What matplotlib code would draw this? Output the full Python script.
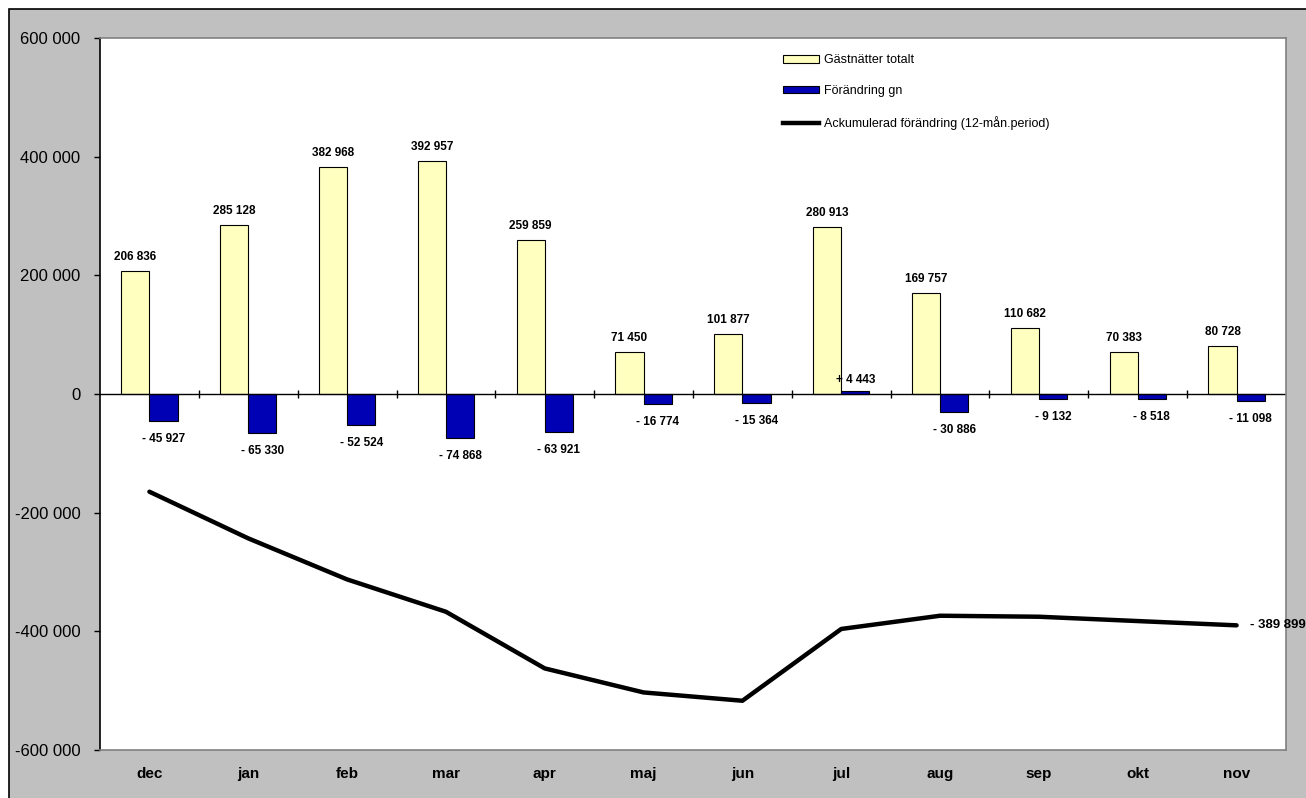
import numpy as np
import matplotlib
matplotlib.use("Agg")
import matplotlib.pyplot as plt
from matplotlib.patches import Rectangle
from matplotlib.lines import Line2D
from matplotlib.patches import Patch

plt.rcParams['font.family'] = ['Liberation Sans', 'DejaVu Sans']

months = ["dec", "jan", "feb", "mar", "apr", "maj", "jun", "jul", "aug", "sep", "okt", "nov"]
totals = [206836, 285128, 382968, 392957, 259859, 71450, 101877, 280913, 169757, 110682, 70383, 80728]
changes = [-45927, -65330, -52524, -74868, -63921, -16774, -15364, 4443, -30886, -9132, -8518, -11098]
cumulative = [-164700, -243300, -312500, -367000, -462500, -503000, -517000, -396000, -373700, -375400, -382700, -389899]
yticks = [600000, 400000, 200000, 0, -200000, -400000, -600000]

legend_labels = ["Gästnätter totalt", "Förändring gn", "Ackumulerad förändring (12-mån.period)"]

W, H = 1306, 798
fig = plt.figure(figsize=(W / 100, H / 100), dpi=100)
fig.patch.set_facecolor('white')
# grey chart area with black frame
bg = Rectangle((9 / W, -0.05), 1.1, (H - 9) / H + 0.05, transform=fig.transFigure,
               facecolor='#C0C0C0', edgecolor='black', linewidth=1.2, zorder=-5)
fig.add_artist(bg)

ax = fig.add_axes([100 / W, (H - 750) / H, (1286 - 100) / W, (750 - 38) / H])
ax.set_zorder(2)
ax.set_facecolor('white')

def fmt(v):
    return f"{abs(v):,}".replace(",", " ")

x = np.arange(len(months))
w = 0.2857
ax.bar(x - w / 2, totals, width=w, color='#FFFFC0', edgecolor='black', linewidth=0.8, zorder=2)
ax.bar(x + w / 2, changes, width=w, color='#0000B4', edgecolor='black', linewidth=0.8, zorder=2)
ax.plot(x, cumulative, color='black', linewidth=3.2, solid_capstyle='round', solid_joinstyle='round', zorder=3)

# zero axis line with category tick marks
ax.axhline(0, color='black', linewidth=1.0, zorder=2.5)
bounds = np.arange(len(months) + 1) - 0.5
ax.vlines(bounds[1:-1], -7000, 7000, color='black', linewidth=1.0, zorder=2.5)

lab_kw = dict(fontsize=8.5, fontweight='bold', ha='center', va='center', textcoords='offset points')
for xi, v in zip(x, totals):
    ax.annotate(fmt(v), (xi - w / 2, v), xytext=(0, 10), **lab_kw)
for xi, v in zip(x, changes):
    s = ("- " if v < 0 else "+ ") + fmt(v)
    ax.annotate(s, (xi + w / 2, v), xytext=(0, -13 if v < 0 else 8), **lab_kw)

last = cumulative[-1]
ax.annotate(("- " if last < 0 else "+ ") + fmt(last), (x[-1], last), xytext=(10, 0),
            textcoords='offset points', fontsize=9.5, fontweight='bold', ha='left', va='center',
            annotation_clip=False, clip_on=False, zorder=10)

ax.set_xlim(-0.5, len(months) - 0.5)
ax.set_ylim(-600000, 600000)
ax.set_yticks(yticks)
ax.set_yticklabels([("-" if t < 0 else "") + fmt(t) for t in yticks], fontsize=12)
ax.tick_params(axis='y', direction='out', length=4, width=1, pad=10)
ax.set_xticks(x)
ax.set_xticklabels(months, fontsize=11, fontweight='bold')
ax.tick_params(axis='x', length=0, pad=12)

for s in ['top', 'right', 'bottom']:
    ax.spines[s].set_color('#808080')
    ax.spines[s].set_linewidth(1.2)
ax.spines['left'].set_color('black')
ax.spines['left'].set_linewidth(1.2)

handles = [Patch(facecolor='#FFFFC0', edgecolor='black', linewidth=0.8),
           Patch(facecolor='#0000B4', edgecolor='black', linewidth=0.8),
           Line2D([0], [0], color='black', linewidth=3.2)]
leg = ax.legend(handles, legend_labels, loc='upper left', bbox_to_anchor=(772 / W, (H - 43) / H),
                bbox_transform=fig.transFigure, frameon=False, fontsize=9,
                handlelength=2.9, handleheight=0.55, handletextpad=0.35, labelspacing=1.5)

fig.savefig("out.png", dpi=100)
